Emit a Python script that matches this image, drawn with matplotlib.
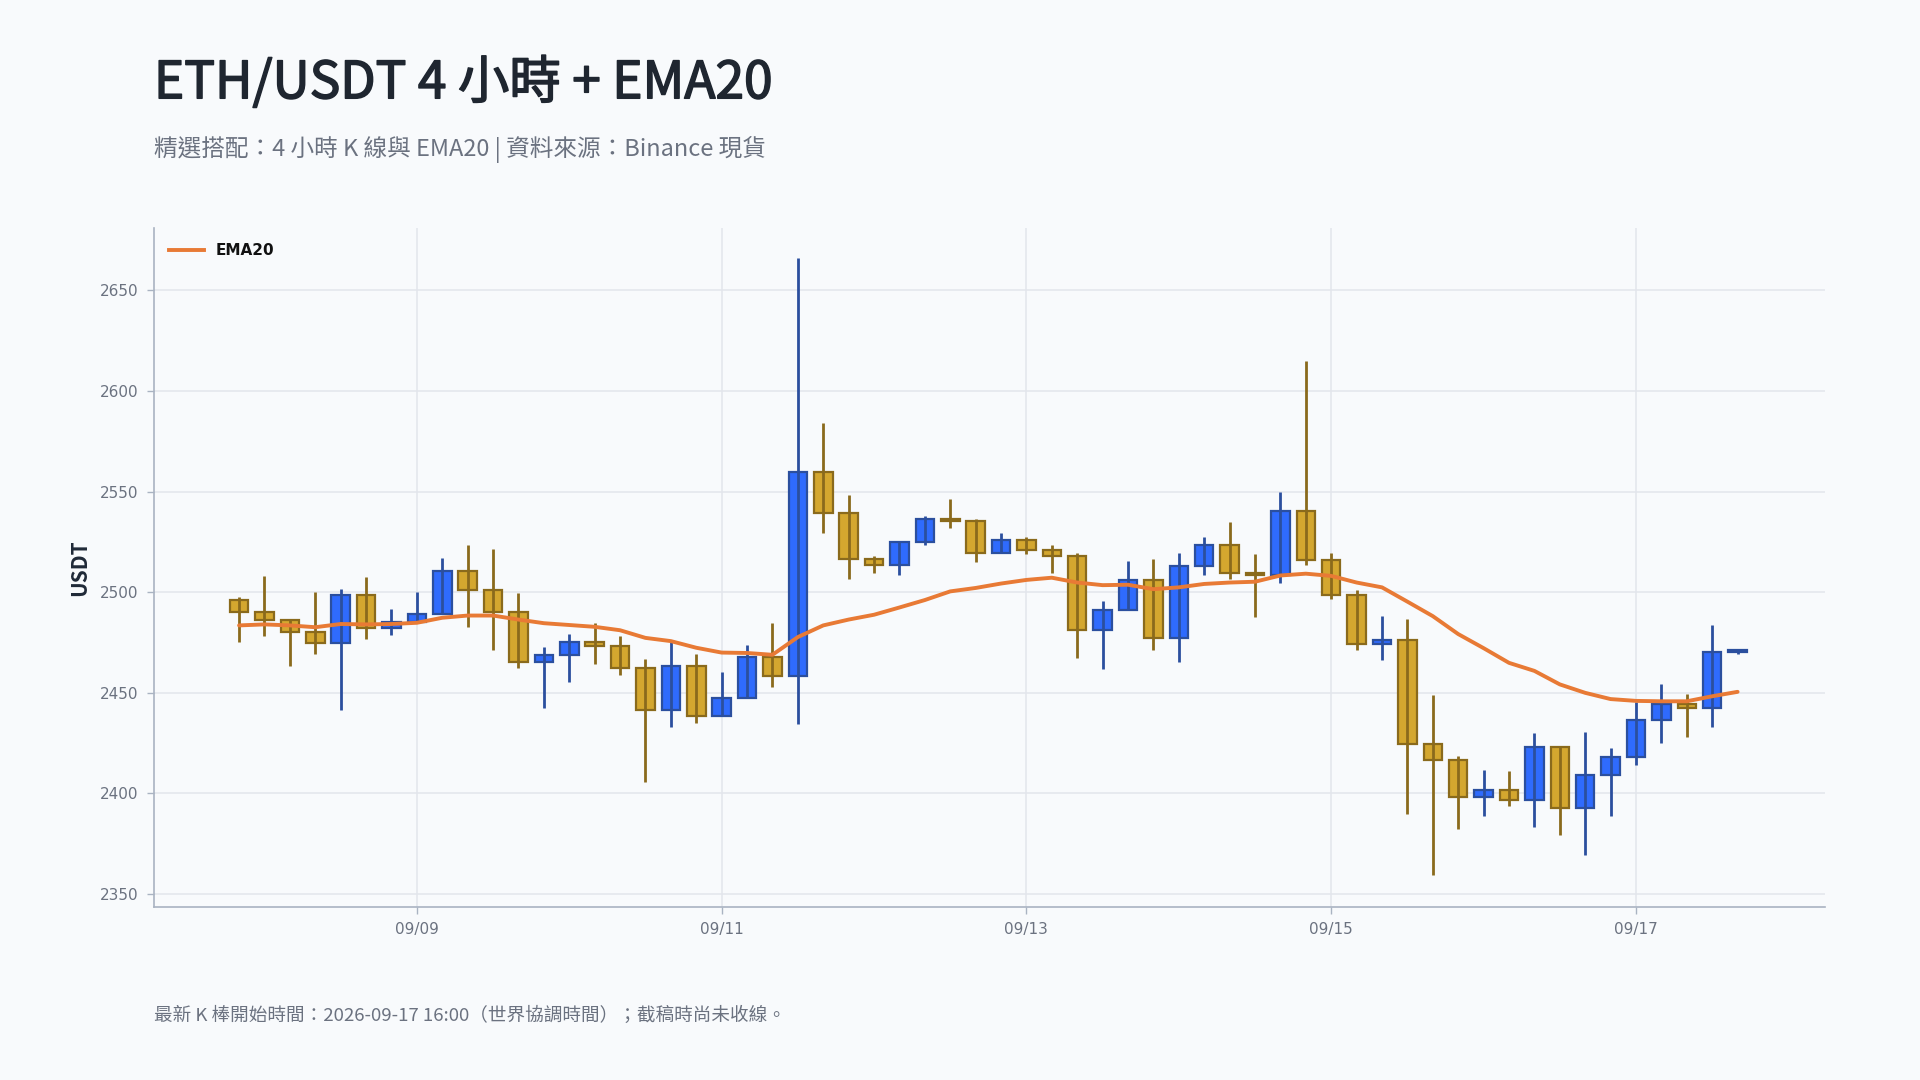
import matplotlib
matplotlib.use("Agg")
import matplotlib.pyplot as plt
import matplotlib.dates as mdates
import matplotlib.patheffects as pe
from matplotlib.lines import Line2D
import numpy as np
import pandas as pd

# ---------------- data ----------------
start_time = "2026-09-07 20:00"
opens = [2496.1, 2490.1, 2486.2, 2480.0, 2474.9, 2498.6, 2482.4, 2485.3, 2489.3, 2510.5,
         2501.0, 2490.1, 2465.3, 2468.6, 2475.5, 2473.3, 2462.4, 2441.6, 2463.1, 2438.7,
         2447.6, 2468.0, 2458.4, 2559.8, 2539.4, 2516.5, 2513.7, 2524.7, 2536.5, 2535.3,
         2519.4, 2525.8, 2521.0, 2518.1, 2481.3, 2491.3, 2506.1, 2477.3, 2513.2, 2523.4,
         2509.7, 2508.6, 2540.3, 2515.9, 2498.6, 2474.4, 2476.2, 2424.8, 2416.6, 2398.4,
         2401.9, 2397.0, 2423.0, 2392.8, 2409.0, 2418.3, 2436.3, 2444.7, 2442.5, 2470.4]
highs = [2497.5, 2508.1, 2486.5, 2500.1, 2501.5, 2507.4, 2491.7, 2500.1, 2517.0, 2523.4,
         2521.4, 2499.5, 2472.9, 2479.3, 2484.6, 2478.2, 2466.9, 2475.1, 2469.3, 2460.4,
         2473.7, 2484.6, 2666.0, 2583.9, 2548.2, 2517.9, 2525.6, 2537.8, 2546.2, 2536.5,
         2529.4, 2527.2, 2523.6, 2519.7, 2495.5, 2515.4, 2516.3, 2519.7, 2527.2, 2534.7,
         2519.0, 2549.8, 2615.0, 2519.7, 2501.0, 2488.2, 2486.6, 2448.9, 2418.5, 2411.7,
         2411.2, 2430.1, 2423.5, 2430.5, 2422.5, 2445.4, 2454.5, 2449.4, 2483.7, 2471.6]
lows = [2475.5, 2478.4, 2463.1, 2469.5, 2441.6, 2476.9, 2478.9, 2485.3, 2489.3, 2482.6,
        2471.1, 2462.4, 2442.7, 2455.6, 2464.4, 2458.7, 2405.9, 2433.2, 2435.2, 2438.7,
        2447.6, 2452.7, 2434.3, 2529.2, 2506.8, 2509.7, 2508.6, 2523.6, 2531.8, 2515.0,
        2519.4, 2519.2, 2509.7, 2467.5, 2462.0, 2491.3, 2471.1, 2465.1, 2508.3, 2506.6,
        2487.9, 2504.8, 2513.7, 2496.4, 2471.5, 2466.2, 2389.9, 2359.3, 2382.2, 2388.6,
        2393.9, 2383.1, 2379.3, 2369.3, 2388.8, 2414.1, 2425.2, 2428.3, 2433.2, 2469.3]
closes = [2490.1, 2486.2, 2480.0, 2474.9, 2498.6, 2482.4, 2485.3, 2489.3, 2510.5, 2501.0,
          2490.1, 2465.3, 2468.6, 2475.5, 2473.3, 2462.4, 2441.6, 2463.1, 2438.7, 2447.6,
          2468.0, 2458.4, 2559.8, 2539.4, 2516.5, 2513.7, 2524.7, 2536.5, 2535.3, 2519.4,
          2525.8, 2521.0, 2518.1, 2481.3, 2491.3, 2506.1, 2477.3, 2513.2, 2523.4, 2509.7,
          2508.6, 2540.3, 2515.9, 2498.6, 2474.4, 2476.2, 2424.8, 2416.6, 2398.4, 2401.9,
          2397.0, 2423.0, 2392.8, 2409.0, 2418.3, 2436.3, 2444.7, 2442.5, 2470.4, 2471.3]
ema20 = [2483.5, 2484.0, 2483.5, 2482.6, 2484.2, 2484.0, 2484.2, 2484.8, 2487.3, 2488.4,
         2488.4, 2486.4, 2484.6, 2483.7, 2482.8, 2481.1, 2477.3, 2475.7, 2472.4, 2470.0,
         2469.8, 2468.9, 2477.7, 2483.5, 2486.4, 2488.8, 2492.4, 2496.1, 2500.4, 2502.1,
         2504.3, 2506.1, 2507.2, 2504.8, 2503.5, 2503.7, 2501.5, 2502.4, 2504.1, 2504.8,
         2505.2, 2508.3, 2509.2, 2508.1, 2504.8, 2502.4, 2495.3, 2488.1, 2479.2, 2472.2,
         2464.9, 2460.9, 2454.2, 2450.0, 2446.9, 2446.0, 2445.8, 2445.8, 2448.3, 2450.5]
x_ticks = ["2026-09-09", "2026-09-11", "2026-09-13", "2026-09-15", "2026-09-17"]
y_ticks = [2350, 2400, 2450, 2500, 2550, 2600, 2650]

title = "ETH/USDT 4 小時 + EMA20"
subtitle = "精選搭配：4 小時 K 線與 EMA20 | 資料來源：Binance 現貨"
footer = "最新 K 棒開始時間：2026-09-17 16:00（世界協調時間）；截稿時尚未收線。"

# ---------------- styling ----------------
BG = "#f8fafc"
UP_FILL, UP_EDGE = "#2f6bfd", "#2b4f9e"
DN_FILL, DN_EDGE = "#d4a72f", "#8a6a1c"
EMA_COLOR = "#e87a35"
GRID = "#e2e6ec"
SPINE = "#a9b3c2"
TICK_TXT = "#6b7280"
TITLE_C = "#1f2630"

plt.rcParams['font.family'] = ['Noto Sans CJK TC', 'DejaVu Sans']

times = pd.date_range(start_time, periods=len(closes), freq="4h")
xs = mdates.date2num(times.to_pydatetime())
o = np.array(opens); h = np.array(highs); l = np.array(lows); c = np.array(closes)
up = c >= o

fig = plt.figure(figsize=(19.2, 10.8), dpi=100, facecolor=BG)
ax = fig.add_axes([0.0802, 0.160, 0.8703, 0.629])
ax.set_facecolor(BG)

step = 4 / 24.0
body_w = step * 0.73

# bodies + wicks
for mask, fill, edge in [(up, UP_FILL, UP_EDGE), (~up, DN_FILL, DN_EDGE)]:
    bottoms = np.minimum(o, c)[mask]
    heights = np.abs(c - o)[mask]
    ax.bar(xs[mask], heights, bottom=bottoms, width=body_w, color=fill,
           edgecolor=edge, linewidth=1.6, zorder=3)
    ax.vlines(xs[mask], l[mask], h[mask], color=edge, linewidth=2.0, zorder=4)

ax.plot(xs, ema20, color=EMA_COLOR, linewidth=2.8, zorder=5, solid_capstyle='round')

# axes limits
ax.set_xlim(xs[0] - 3.35 * step, xs[0] + 62.44 * step)
ax.set_ylim(2343.5, 2681)

ax.set_yticks(y_ticks)
ax.set_yticklabels([str(v) for v in y_ticks], family='DejaVu Sans', fontsize=11, color=TICK_TXT)
xt = mdates.date2num(pd.to_datetime(x_ticks).to_pydatetime())
ax.set_xticks(xt)
ax.set_xticklabels(pd.to_datetime(x_ticks).strftime("%m/%d"), family='DejaVu Sans',
                   fontsize=11, color=TICK_TXT)
ax.tick_params(axis='both', direction='out', length=5, width=1, color=SPINE, pad=6)

ax.grid(True, color=GRID, linewidth=1.1, zorder=0)
ax.set_axisbelow(True)
for s in ['top', 'right']:
    ax.spines[s].set_visible(False)
for s in ['left', 'bottom']:
    ax.spines[s].set_color(SPINE)
    ax.spines[s].set_linewidth(1.2)

ax.set_ylabel("USDT", fontsize=15, fontweight='bold', color="#1f2937")
ax.yaxis.set_label_coords(-0.0385, 0.5)

leg_handle = Line2D([0], [0], color=EMA_COLOR, linewidth=2.8)
leg = ax.legend([leg_handle], ["EMA20"], loc='upper left', frameon=False,
                bbox_to_anchor=(0.0, 1.0), handlelength=2.3, handletextpad=0.75,
                borderaxespad=0.6,
                prop={'family': 'DejaVu Sans', 'weight': 'bold', 'size': 11})
for t in leg.get_texts():
    t.set_color("#111111")

fig.text(0.0802, 0.909, title, fontsize=37, color=TITLE_C, ha='left', va='baseline',
         path_effects=[pe.withStroke(linewidth=1.1, foreground=TITLE_C)])
fig.text(0.0802, 0.856, subtitle, fontsize=17, color="#6b7280", ha='left', va='baseline')
fig.text(0.0802, 0.055, footer, fontsize=13.4, color="#6b7280", ha='left', va='baseline')

fig.savefig("out.png", dpi=100, facecolor=BG)
